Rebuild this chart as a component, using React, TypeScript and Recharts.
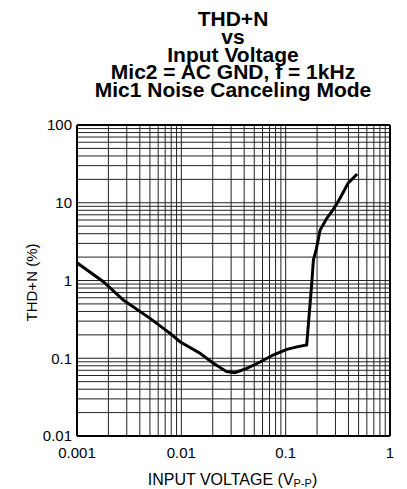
import React from 'react';
import {
  LineChart,
  Line,
  XAxis,
  YAxis,
  ReferenceLine
} from 'recharts';

const titleLines = [
  'THD+N',
  'vs',
  'Input Voltage',
  'Mic2 = AC GND, f = 1kHz',
  'Mic1 Noise Canceling Mode'
];

// input voltage (Vp-p) and THD+N (%)
const inputVoltage = [
  0.001, 0.00179, 0.00278, 0.00501, 0.0078, 0.0097, 0.0151, 0.0201, 0.0272, 0.0327,
  0.0424, 0.0569, 0.0757, 0.1025, 0.1316, 0.159, 0.178, 0.1845, 0.196, 0.214,
  0.248, 0.284, 0.333, 0.397, 0.484
];
const thdPlusN = [
  1.69, 0.966, 0.561, 0.326, 0.209, 0.163, 0.116, 0.087, 0.0672, 0.0652,
  0.0743, 0.0895, 0.11, 0.13, 0.141, 0.148, 0.929, 1.84, 2.47, 4.46,
  6.3, 8.07, 11.5, 17.9, 23.4
];

const xTicks = [0.001, 0.01, 0.1, 1];
const yTicks = [0.01, 0.1, 1, 10, 100];
const steps = [1, 2, 3, 4, 5, 6, 7, 8, 9];

const gridX = xTicks.slice(0, -1).flatMap(d => steps.map(s => +(d * s).toPrecision(3)));
const gridY = yTicks.slice(0, -1).flatMap(d => steps.map(s => +(d * s).toPrecision(3)));

const data = inputVoltage.map((v, i) => ({ v, thd: thdPlusN[i] }));

const font = '"Liberation Sans", Arial, sans-serif';

const YTitle = (props: any) => {
  const { viewBox } = props;
  const cy = viewBox.y + viewBox.height / 2 + 2;
  return (
    <text
      x={31}
      y={cy}
      transform={`rotate(-90 31 ${cy})`}
      textAnchor="middle"
      dominantBaseline="central"
      fontFamily={font}
      fontSize={15}
      fill="#000"
    >
      THD+N (%)
    </text>
  );
};

const XTitle = (props: any) => {
  const { viewBox } = props;
  return (
    <text x={viewBox.x + viewBox.width / 2 - 1} y={485} textAnchor="middle" fontFamily={font} fontSize={16} fill="#000">
      INPUT VOLTAGE (V
      <tspan fontSize={11} dy={2}>P-P</tspan>
      <tspan dy={-2}>)</tspan>
    </text>
  );
};

export default function App() {
  return (
    <div style={{ position: 'absolute', left: 0, top: 0, width: 407, height: 489, background: '#fff' }}>
      <svg width={407} height={110} style={{ position: 'absolute', left: 0, top: 0 }}>
        {titleLines.map((t, i) => (
          <text
            key={t}
            x={233}
            y={26 + i * 17.8}
            textAnchor="middle"
            fontFamily={font}
            fontWeight="bold"
            fontSize={21}
            fill="#000"
          >
            {t}
          </text>
        ))}
      </svg>
      <div style={{ position: 'absolute', left: 0, top: 0 }}>
        <LineChart width={407} height={489} data={data} margin={{ top: 125, right: 17, bottom: 23, left: 17 }}>
          <XAxis
            dataKey="v"
            type="number"
            scale="log"
            domain={[0.001, 1]}
            ticks={xTicks}
            allowDataOverflow
            axisLine={false}
            tickLine={false}
            tickSize={0}
            tickMargin={11}
            height={30}
            tick={{ fill: '#000', fontSize: 15, fontFamily: font }}
            label={<XTitle />}
          />
          <YAxis
            dataKey="thd"
            type="number"
            scale="log"
            domain={[0.01, 100]}
            ticks={yTicks}
            allowDataOverflow
            axisLine={false}
            tickLine={false}
            tickSize={0}
            tickMargin={5}
            width={60}
            tick={{ fill: '#000', fontSize: 15, fontFamily: font }}
            label={<YTitle />}
          />
          {gridX.map(x => (
            <ReferenceLine key={'gx' + x} x={x} stroke="#222" strokeWidth={1} />
          ))}
          {gridY.map(y => (
            <ReferenceLine key={'gy' + y} y={y} stroke="#222" strokeWidth={1} />
          ))}
          <ReferenceLine x={0.001} stroke="#000" strokeWidth={2} />
          <ReferenceLine x={1} stroke="#000" strokeWidth={2} />
          <ReferenceLine y={0.01} stroke="#000" strokeWidth={2} />
          <ReferenceLine y={100} stroke="#000" strokeWidth={2} />
          <Line
            type="linear"
            dataKey="thd"
            stroke="#000"
            strokeWidth={3}
            dot={false}
            isAnimationActive={false}
          />
        </LineChart>
      </div>
    </div>
  );
}
